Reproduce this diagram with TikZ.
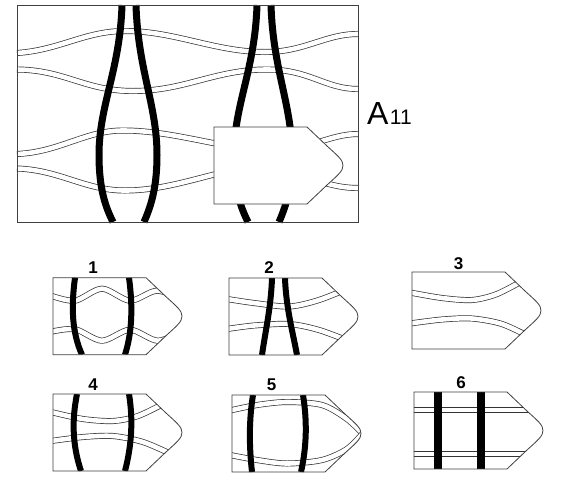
\documentclass[tikz,border=0pt]{standalone}
\usepackage{fontspec}
\setmainfont{Liberation Sans}
\usepackage{tikz}

% contorno de la pieza
\newcommand{\tagpath}{(0,0) -- (93,0) -- (113,19) .. controls (124,29) and (129,33) .. (129,38.5) .. controls (129,44) and (124,48) .. (113,58) -- (93,77) -- (0,77) -- cycle}

\tikzset{
  band/.style={draw=black!80, line width=0.7pt, double=white, double distance=4.6pt},
  strand/.style={line width=7pt},
  frame/.style={draw=black!75, line width=0.9pt},
  tag/.style={draw=black!75, line width=0.8pt},
  lbl/.style={font=\fontsize{17}{17}\selectfont\bfseries, inner sep=0pt}
}

\begin{document}
\begin{tikzpicture}[x=1pt,y=-1pt]

\fill[white] (0,0) rectangle (575,488);
\useasboundingbox (0,0) rectangle (575,488);

% bandas
\draw[band] (17,53) .. controls (60,50) and (85,31) .. (125,31) .. controls (175,31) and (215,52) .. (265,52) .. controls (305,52) and (325,34) .. (358,34);
\draw[band] (17,69.5) .. controls (65,70) and (85,91) .. (133,91) .. controls (185,91) and (215,69.5) .. (267,69.5) .. controls (310,69.5) and (325,89) .. (358,89);
\draw[band] (17,154) .. controls (60,152) and (85,130.5) .. (123,130.5) .. controls (175,130.5) and (225,150) .. (270,150) .. controls (310,150) and (330,134) .. (358,134);
\draw[band] (17,168.5) .. controls (60,170) and (85,190.5) .. (125,190.5) .. controls (175,190.5) and (220,168) .. (255,168) .. controls (300,168) and (320,188) .. (358,188);

% hebras
\draw[strand] (122,5) .. controls (120,70) and (99,105) .. (99,155) .. controls (99,190) and (106,208) .. (113,222);
\draw[strand] (136,5) .. controls (138,70) and (157,105) .. (157,155) .. controls (157,190) and (150,208) .. (144,222);
\draw[strand] (257,5) .. controls (255,70) and (234,105) .. (234,155) .. controls (234,190) and (241,208) .. (248,222);
\draw[strand] (271,5) .. controls (273,70) and (292,105) .. (292,155) .. controls (292,190) and (285,208) .. (279,222);

\draw[frame] (17,5) rectangle (358,222);

% pieza que falta
\begin{scope}[shift={(214,127)}]
\filldraw[tag, fill=white] \tagpath;
\end{scope}

\node (A) [anchor=base west, inner sep=0pt, font=\fontsize{32}{32}\selectfont] at (367,124) {A};
\node (Asub) [anchor=base west, inner sep=0pt, font=\fontsize{21}{21}\selectfont] at ([xshift=1pt]A.base east) {11};

% 1
\begin{scope}[shift={(53,277.7)}]
\begin{scope}
\clip \tagpath;
\draw[band] plot[smooth] coordinates {(-2,18) (22,23) (49,11) (77,23) (104,13) (132,22)};
\draw[band] plot[smooth] coordinates {(-2,54) (22,51.5) (49,63) (77,52) (105,63) (132,52)};
\draw[strand, line width=6pt] (22,0) .. controls (18,30) and (19,55) .. (29,77);
\draw[strand, line width=6pt] (76,0) .. controls (80,30) and (79,55) .. (72,77);
\end{scope}
\draw[tag] \tagpath;
\end{scope}

% 2
\begin{scope}[shift={(229,278)}]
\begin{scope}
\clip \tagpath;
\draw[band] plot[smooth] coordinates {(-2,21) (25,25) (60,28.5) (90,22) (125,8)};
\draw[band] plot[smooth] coordinates {(-2,51) (25,47.5) (60,46) (90,52) (125,65)};
\draw[strand, line width=6pt] (43,0) .. controls (42,30) and (36,55) .. (33,77);
\draw[strand, line width=6pt] (56,0) .. controls (57,30) and (64,55) .. (68,77);
\end{scope}
\draw[tag] \tagpath;
\end{scope}

% 3
\begin{scope}[shift={(412,272)}]
\begin{scope}
\clip \tagpath;
\draw[band] plot[smooth] coordinates {(-2,20.5) (30,26) (60,28) (85,22) (112,8)};
\draw[band] plot[smooth] coordinates {(-2,51.5) (30,47.5) (60,46.5) (90,52) (118,65)};
\end{scope}
\draw[tag] \tagpath;
\end{scope}

% 4
\begin{scope}[shift={(53,394)}]
\begin{scope}
\clip \tagpath;
\draw[band] plot[smooth] coordinates {(-2,18) (30,25) (60,27) (85,22) (112,9)};
\draw[band] plot[smooth] coordinates {(-2,47) (30,43) (60,42) (90,48) (118,60)};
\draw[strand, line width=6pt] (24,0) .. controls (19,25) and (19,50) .. (28,77);
\draw[strand, line width=6pt] (76,0) .. controls (80,25) and (79,50) .. (72,77);
\end{scope}
\draw[tag] \tagpath;
\end{scope}

% 5
\begin{scope}[shift={(232,395)}]
\begin{scope}
\clip \tagpath;
\draw[band] plot[smooth] coordinates {(-2,15.5) (25,10) (55,7) (90,10) (115,24) (132,40)};
\draw[band] plot[smooth] coordinates {(-2,60) (25,65) (55,68.5) (90,65) (115,54) (132,37)};
\draw[strand, line width=6pt] (21,0) .. controls (17,25) and (17,50) .. (20,77);
\draw[strand, line width=6pt] (71,0) .. controls (75,25) and (75,50) .. (69,77);
\end{scope}
\draw[tag] \tagpath;
\end{scope}

% 6
\begin{scope}[shift={(414,392)}]
\begin{scope}
\clip \tagpath;
\draw[band] (-2,18) -- (135,18);
\draw[band] (-2,62) -- (135,62);
\draw[strand, line width=8pt] (23.5,0) -- (23.5,77);
\draw[strand, line width=8pt] (66.5,0) -- (66.5,77);
\end{scope}
\draw[tag] \tagpath;
\end{scope}

\node (n1) [lbl] at (93,267.5) {1};
\node (n2) [lbl] at (269,267.5) {2};
\node (n3) [lbl] at (458.5,263.5) {3};
\node (n4) [lbl] at (93,385) {4};
\node (n5) [lbl] at (271.5,385) {5};
\node (n6) [lbl] at (461,382.5) {6};

\end{tikzpicture}
\end{document}
